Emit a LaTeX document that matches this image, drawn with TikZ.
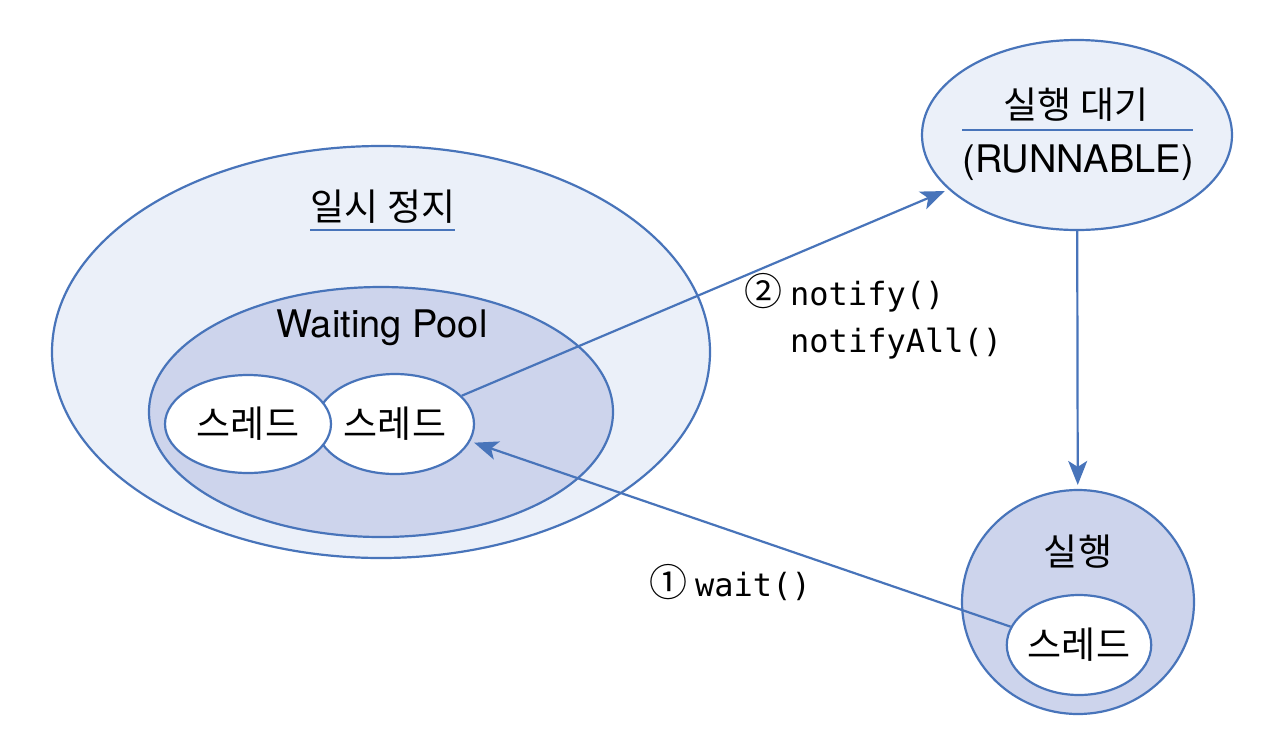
\documentclass[tikz,border=0pt]{standalone}
\usepackage{fontspec}
\setmainfont{Noto Sans CJK KR}
\setmonofont{DejaVu Sans Mono}
\newfontfamily\latinfont{TeX Gyre Heros}
\usetikzlibrary{shapes.geometric,arrows.meta}
\definecolor{lineblue}{RGB}{72,116,186}
\definecolor{palefill}{RGB}{235,240,249}
\definecolor{midfill}{RGB}{205,212,236}
\tikzset{
  ell/.style={ellipse, draw=lineblue, line width=2.2pt, inner sep=0pt},
  lbl/.style={font=\fontsize{37}{42}\selectfont, text=black, inner sep=0pt},
  lat/.style={font=\fontsize{38}{42}\selectfont\latinfont, text=black, inner sep=0pt},
  code/.style={font=\fontsize{32}{40}\selectfont, text=black, anchor=west, inner sep=0pt},
  arr/.style={draw=lineblue, line width=2.2pt, shorten >=4pt, -{Stealth[length=24pt,width=19pt,inset=6pt]}},
  rule/.style={draw=lineblue, line width=2.5pt},
}
\newcommand{\circnum}[1]{{\fontsize{38}{40}\selectfont #1}}
\begin{document}
\begin{tikzpicture}[x=1pt,y=-1pt]
\useasboundingbox[fill=white] (0,0) rectangle (1280,748);
% pause region
\node[ell, fill=palefill, minimum width=658pt, minimum height=412pt] (pause) at (381,352) {};
\node[lbl] (pauseT) at (383,207) {일시 정지};
\draw[rule] (310,230) -- (455,230);
% waiting pool
\node[ell, fill=midfill, minimum width=464pt, minimum height=250pt] (pool) at (381,412) {};
\node[lat] (poolT) at (382,328) {Waiting Pool};
\node[ell, fill=white, minimum width=158pt, minimum height=100pt, lbl] (thr2) at (395,424) {스레드};
\node[ell, fill=white, minimum width=166pt, minimum height=98pt, lbl] (thr1) at (248,424) {스레드};
% runnable
\node[ell, fill=palefill, minimum width=310pt, minimum height=190pt] (run) at (1077,135) {};
\node[lbl] (runT) at (1076,105) {실행 대기};
\draw[rule, line width=2pt] (962,130) -- (1193,130);
\node[lat] (runE) at (1078,163) {(RUNNABLE)};
% running
\node[ell, fill=midfill, minimum width=232pt, minimum height=224pt] (exec) at (1078,602) {};
\node[lbl] (execT) at (1078,552) {실행};
\node[ell, fill=white, minimum width=134pt, minimum height=100pt, lbl] (thrRun) at (1079,645) {스레드};
% arrows
\draw[arr] (thr2) -- (run);
\draw[arr] (run) -- (exec);
\draw[arr] (thrRun.165) -- (thr2.347);
% labels
\node[code] (lblA) at (744,293) {\circnum{②}\hspace{8pt}\texttt{notify()}};
\node[code] (lblB) at (790,344) {\texttt{notifyAll()}};
\node[code] (lblC) at (649,583) {\circnum{①}\hspace{8pt}\texttt{wait()}};
\end{tikzpicture}
\end{document}
